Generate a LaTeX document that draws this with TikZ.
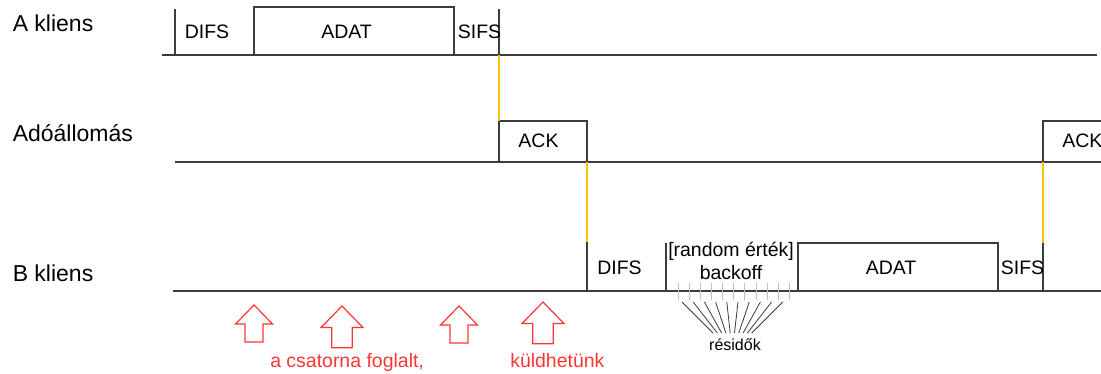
\documentclass[tikz,border=0pt]{standalone}
\usepackage{fontspec}
\setmainfont{Liberation Sans}
\usepackage{tikz}
\usetikzlibrary{fit}

\definecolor{lineclr}{HTML}{3C3C3C}
\definecolor{syncclr}{HTML}{FFC000}
\definecolor{warnclr}{HTML}{FF3535}

\begin{document}
\begin{tikzpicture}[
  x=0.75pt, y=-0.75pt,
  line/.style={draw=lineclr, line width=1.1pt},
  frame/.style={draw=lineclr, line width=1.1pt, inner sep=0pt, outer sep=0pt},
  sync/.style={draw=syncclr, line width=0.8pt},
  slot/.style={inner sep=0pt, anchor=base, font=\fontsize{14.6}{17.25}\selectfont},
  who/.style={inner sep=0pt, anchor=base west, font=\fontsize{17.25}{20}\selectfont},
  note/.style={inner sep=0pt, anchor=base west, text=warnclr, font=\fontsize{14.6}{17.25}\selectfont},
  tickmark/.style={draw=black!25, line width=0.75pt},
  fan/.style={draw=lineclr, line width=0.6pt},
  warn/.style={draw=warnclr, line width=0.9pt}
]
\useasboundingbox (0,0) rectangle (1101,374);

\node[who] (aname) at (12.5,32) {A kliens};
\node[who] (sname) at (12.5,142) {Adóállomás};
\node[who] (bname) at (12.5,282) {B kliens};

% A kliens
\draw[line] (162,55) -- (1097,55);
\draw[line] (175,9) -- (175,55);
\node[frame, fit={(254,7) (454,55)}] (adatA) {};
\coordinate (sifsA) at (499,55);
\draw[line] (499,9) -- (sifsA);
\node[slot] (difsAt) at (207,39) {DIFS};
\node[slot] (adatAt) at (346.5,39) {ADAT};
\node[slot] (sifsAt) at (479.5,39) {SIFS};

% Adóállomás
\draw[line] (175,162) -- (1101,162);
\node[frame, fit={(499,121) (587,162)}] (ackA) {};
\node[frame, fit={(1043,121) (1130,162)}] (ackB) {};
\node[slot] (ackAt) at (538.5,148) {ACK};
\node[slot, anchor=base west] (ackBt) at (1062,148) {ACK};

% B kliens
\draw[line] (173,291) -- (1101,291);
\coordinate (difsB) at (587,242);
\coordinate (sifsB) at (1043,243);
\draw[line] (difsB) -- (587,291);
\draw[line] (666,243) -- (666,291);
\node[frame, fit={(798,243) (998,291)}] (adatB) {};
\draw[line] (sifsB) -- (1043,291);
\node[slot] (difsBt) at (619.5,275) {DIFS};
\node[slot, align=center] (backoff) at (731,280) {[random érték]\\backoff};
\node[slot] (adatBt) at (891,275) {ADAT};
\node[slot] (sifsBt) at (1022.5,275) {SIFS};

\draw[sync] (sifsA) -- (ackA.north west);
\draw[sync] (ackA.south east) -- (difsB);
\draw[sync] (ackB.south west) -- (sifsB);

\foreach \i in {0,...,10}
  \draw[tickmark] ({678+11.15*\i},283) -- ({678+11.15*\i},300);
\foreach \i in {0,...,9}
  \draw[fan] ({682+11.2*\i},302) -- ({713+4.3*\i},333);
\node[inner sep=0pt, anchor=base, font=\fontsize{12}{14}\selectfont] (resid) at (735,350) {résidők};

\foreach \x/\y/\s in {254/305/1, 342/306/1.13, 459/306/1, 543/302/1.13}
  \draw[warn, shift={(\x,\y)}, scale=\s]
    (0,0) -- (18.5,19) -- (9,19) -- (9,37) -- (-9,37) -- (-9,19) -- (-18.5,19) -- cycle;
\node[note] (busy) at (270,368) {a csatorna foglalt,};
\node[note] (free) at (510,368) {küldhetünk};
\end{tikzpicture}
\end{document}
